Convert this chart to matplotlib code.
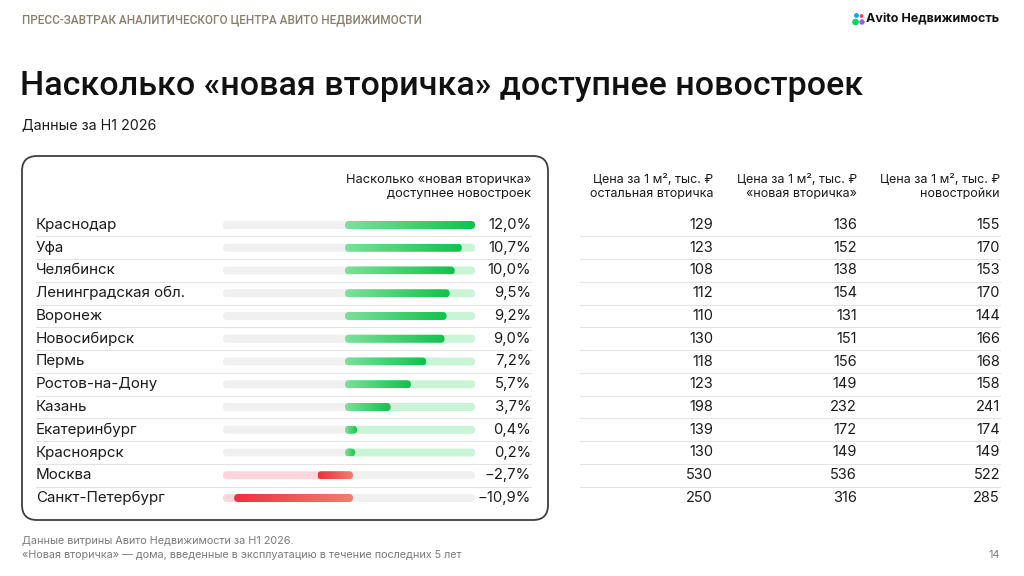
import matplotlib
matplotlib.use("Agg")
import matplotlib.pyplot as plt
import numpy as np
from matplotlib.colors import LinearSegmentedColormap
from matplotlib.patches import FancyBboxPatch, Circle
from matplotlib.transforms import blended_transform_factory

# ---- data -------------------------------------------------------------
cities = ["Краснодар", "Уфа", "Челябинск", "Ленинградская обл.", "Воронеж",
          "Новосибирск", "Пермь", "Ростов-на-Дону", "Казань", "Екатеринбург",
          "Красноярск", "Москва", "Санкт-Петербург"]
gap_pct = [12.0, 10.7, 10.0, 9.5, 9.2, 9.0, 7.2, 5.7, 3.7, 0.4, 0.2, -2.7, -10.9]
price_rest = [129, 123, 108, 112, 110, 130, 118, 123, 198, 139, 130, 530, 250]
price_new_sec = [136, 152, 138, 154, 131, 151, 156, 149, 232, 172, 149, 536, 316]
price_primary = [155, 170, 153, 170, 144, 166, 168, 158, 241, 174, 149, 522, 285]
table_headers = ["Цена за 1 м², тыс. ₽\nостальная вторичка",
                 "Цена за 1 м², тыс. ₽\n«новая вторичка»",
                 "Цена за 1 м², тыс. ₽\nновостройки"]
track_max = 12

# ---- style ------------------------------------------------------------
W, H = 1024, 576
BODY = ["Inter", "DejaVu Sans"]
HEAD = ["Roboto", "DejaVu Sans"]
TXT = "#1b1b1b"
GRAY_TRACK = "#f0f0f0"
GREEN_TRACK = "#c9f5d6"
PINK_TRACK = "#fcd6dc"
SEP = "#e4e4e4"
green_cmap = LinearSegmentedColormap.from_list("g", ["#7ee09a", "#10c24c"])
red_cmap = LinearSegmentedColormap.from_list("r", ["#ef2f3e", "#f27e6e"])

fig = plt.figure(figsize=(W / 100, H / 100), dpi=100)
fig.patch.set_facecolor("white")

# overlay axes in pixel units for the page layout
ax = fig.add_axes([0, 0, 1, 1])
ax.set_xlim(0, W)
ax.set_ylim(H, 0)
ax.axis("off")

# bar axes: x in percent, y in row index
px_per_pct = 10.17
row_px = 22.75
zero_px, first_row_px = 349, 225
xlim = (-13, 13)
n = len(cities)
bx_w = (xlim[1] - xlim[0]) * px_per_pct
bx_h = n * row_px
bx_left = zero_px + xlim[0] * px_per_pct
bx_top = first_row_px - row_px / 2
bx = fig.add_axes([bx_left / W, (H - bx_top - bx_h) / H, bx_w / W, bx_h / H])
bx.set_xlim(*xlim)
bx.set_ylim(n - 0.5, -0.5)
bx.axis("off")

rows = blended_transform_factory(ax.transData, bx.transData)

bar_h_px = 8
bar_h = bar_h_px / row_px                   # in row units
rad = bar_h_px / 2 / px_per_pct             # in percent units
aspect = (1 / row_px) / (1 / px_per_pct)


def pill(x0, x1, y, **kw):
    return FancyBboxPatch((x0 - rad, y - bar_h / 2), (x1 - x0) + 2 * rad, bar_h,
                          boxstyle=f"round,pad=0,rounding_size={rad}",
                          mutation_aspect=aspect, linewidth=0, **kw)


grad = np.linspace(0, 1, 256).reshape(1, -1)
for i, v in enumerate(gap_pct):
    left_c = PINK_TRACK if v < 0 else GRAY_TRACK
    right_c = GREEN_TRACK if v > 0 else GRAY_TRACK
    bx.add_patch(pill(-track_max, 0, i, facecolor=left_c))
    bx.add_patch(pill(0, track_max, i, facecolor=right_c))
    lo, hi = min(0, v), max(0, v)
    p = pill(lo, hi, i, facecolor="none")
    bx.add_patch(p)
    img = bx.imshow(grad, cmap=green_cmap if v > 0 else red_cmap, aspect="auto",
                    extent=[lo - rad, hi + rad, i + bar_h / 2, i - bar_h / 2],
                    zorder=3)
    img.set_clip_path(p)
bx.set_xlim(*xlim)
bx.set_ylim(n - 0.5, -0.5)

# ---- rounded frame ----------------------------------------------------
ax.add_patch(FancyBboxPatch((22, 156), 526, 364,
                            boxstyle="round,pad=0,rounding_size=15",
                            facecolor="none", edgecolor="#3f3f3f", linewidth=1.3))

# row separators
for i in range(n - 1):
    ax.plot([36, 531], [i + 0.5, i + 0.5], color=SEP, lw=0.8, transform=rows)
    ax.plot([580, 1000], [i + 0.5, i + 0.5], color=SEP, lw=0.8, transform=rows)

# city names and percent labels
for i, (c, v) in enumerate(zip(cities, gap_pct)):
    ax.text(36, i, c, transform=rows, ha="left", va="center",
            fontsize=10.9, color=TXT, family=BODY)
    lbl = f"{abs(v):.1f}%".replace(".", ",")
    if v < 0:
        lbl = "\u2212" + lbl
    ax.text(531, i, lbl, transform=rows, ha="right", va="center",
            fontsize=10.7, color=TXT, family=BODY)

# price table
col_x = [713, 857, 1000]
for cx, hdr, col in zip(col_x, table_headers,
                        [price_rest, price_new_sec, price_primary]):
    ax.text(cx, 187, hdr, ha="right", va="center", fontsize=9.0,
            color=TXT, family=BODY, linespacing=1.3)
    for i, val in enumerate(col):
        ax.text(cx, i, f"{val}", transform=rows, ha="right", va="center",
                fontsize=10.5, color=TXT, family=BODY)

ax.text(531, 187, "Насколько «новая вторичка»\nдоступнее новостроек",
        ha="right", va="center", fontsize=9.3, color=TXT, family=BODY,
        linespacing=1.3)

# ---- page header / footer --------------------------------------------
ax.text(22, 20, "ПРЕСС-ЗАВТРАК АНАЛИТИЧЕСКОГО ЦЕНТРА АВИТО НЕДВИЖИМОСТИ",
        ha="left", va="center", fontsize=8.5, color="#8a7e6c",
        family=HEAD, fontweight="medium")
for (cx, cy, r, col) in [(855.5, 22, 3.3, "#04d65c"), (856.5, 15.5, 2.4, "#0aa3ff"),
                         (861.5, 16, 1.9, "#ff4053"), (862, 22, 2.7, "#9a5cf0")]:
    ax.add_patch(Circle((cx, cy), r, color=col, linewidth=0))
ax.text(866, 19, "Avito Недвижимость", ha="left", va="center", fontsize=9.0,
        color="#111111", family=BODY, fontweight="bold")

ax.text(20, 86, "Насколько «новая вторичка» доступнее новостроек",
        ha="left", va="center", fontsize=24.5, color="#111111",
        family=HEAD, fontweight="medium")
ax.text(22, 125, "Данные за H1 2026", ha="left", va="center",
        fontsize=10.3, color=TXT, family=BODY)

ax.text(22, 541, "Данные витрины Авито Недвижимости за H1 2026.", ha="left",
        va="center", fontsize=7.8, color="#7a7a7a", family=BODY)
ax.text(22, 555, "«Новая вторичка» — дома, введенные в эксплуатацию в течение последних 5 лет",
        ha="left", va="center", fontsize=7.8, color="#7a7a7a", family=BODY)
ax.text(1000, 555, "14", ha="right", va="center", fontsize=7.8,
        color="#7a7a7a", family=BODY)

fig.savefig("out.png", dpi=100)
